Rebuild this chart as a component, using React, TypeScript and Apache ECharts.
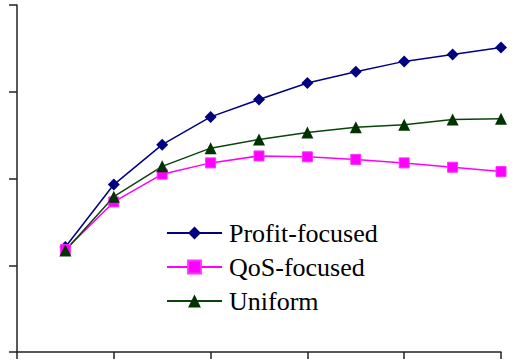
import React, { useEffect, useRef } from "react";
import * as echarts from "echarts";

const xValues = [1, 2, 3, 4, 5, 6, 7, 8, 9, 10];
const profitFocused = [1.21, 1.93, 2.39, 2.71, 2.91, 3.1, 3.23, 3.35, 3.43, 3.51];
const qosFocused = [1.18, 1.73, 2.05, 2.18, 2.26, 2.25, 2.22, 2.18, 2.13, 2.08];
const uniform = [1.17, 1.79, 2.14, 2.35, 2.45, 2.53, 2.59, 2.62, 2.68, 2.69];
const seriesNames = ["Profit-focused", "QoS-focused", "Uniform"];

const pairs = (ys: number[]) => xValues.map((x, i) => [x, ys[i]]);

export default function App() {
  const ref = useRef<HTMLDivElement>(null);
  useEffect(() => {
    if (!ref.current) return;
    const chart = echarts.init(ref.current, null, { renderer: "svg" });
    const axisColor = "#222";
    const serif = "Liberation Serif";
    chart.setOption({
      animation: false,
      backgroundColor: "#fff",
      textStyle: { fontFamily: serif },
      grid: { left: 17, right: 15, top: 5, bottom: 11, containLabel: false },
      legend: {
        orient: "vertical",
        left: 161,
        top: 215,
        itemWidth: 55,
        itemHeight: 16,
        itemGap: 8,
        textStyle: {
          fontFamily: serif,
          fontSize: 26,
          fontWeight: "normal",
          color: "#000",
          padding: [0, 0, 0, 2],
        },
        data: seriesNames,
      },
      xAxis: {
        type: "value",
        min: 0,
        max: 10,
        interval: 2,
        axisLine: { show: true, lineStyle: { color: axisColor, width: 1.5 } },
        axisTick: { show: true, length: 7, lineStyle: { color: axisColor, width: 1.5 } },
        axisLabel: { show: false },
        splitLine: { show: false },
      },
      yAxis: {
        type: "value",
        min: 0,
        max: 4,
        interval: 1,
        axisLine: { show: true, lineStyle: { color: axisColor, width: 1.5 } },
        axisTick: { show: true, length: 8, lineStyle: { color: axisColor, width: 1.5 } },
        axisLabel: { show: false },
        splitLine: { show: false },
      },
      series: [
        {
          name: seriesNames[0],
          type: "line",
          data: pairs(profitFocused),
          symbol: "diamond",
          symbolSize: 12,
          lineStyle: { color: "#000080", width: 1.5 },
          itemStyle: { color: "#000080" },
        },
        {
          name: seriesNames[1],
          type: "line",
          data: pairs(qosFocused),
          symbol: "rect",
          symbolSize: 10,
          lineStyle: { color: "#FF00FF", width: 1.5 },
          itemStyle: { color: "#FF00FF", borderColor: "#FF33FF", borderWidth: 1 },
        },
        {
          name: seriesNames[2],
          type: "line",
          data: pairs(uniform),
          symbol: "triangle",
          symbolSize: 12,
          lineStyle: { color: "#0b440b", width: 1.5 },
          itemStyle: { color: "#003300" },
        },
      ],
    });
    return () => chart.dispose();
  }, []);
  return (
    <div
      ref={ref}
      style={{ position: "fixed", left: 0, top: 0, width: 516, height: 363, background: "#fff" }}
    />
  );
}
